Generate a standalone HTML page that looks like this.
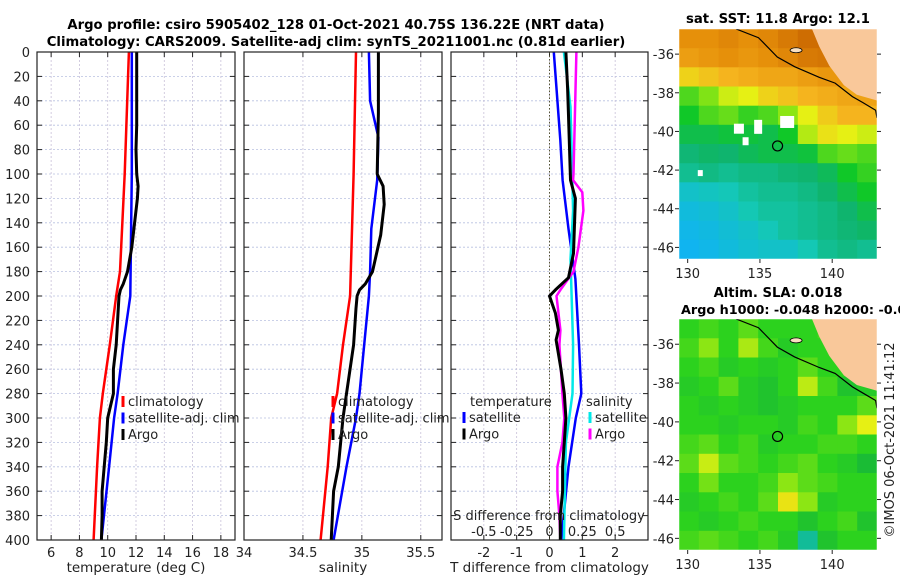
<!DOCTYPE html>
<html><head><meta charset="utf-8">
<style>
body{margin:0;background:#fff;}
svg{display:block;font-family:"DejaVu Sans","Liberation Sans",sans-serif;}
</style></head>
<body>
<svg id="chart" width="900" height="580" viewBox="0 0 900 580" xmlns="http://www.w3.org/2000/svg">
<g font-weight="bold" font-size="13.2" text-anchor="middle" fill="#000">
<text x="336" y="29">Argo profile: csiro 5905402_128 01-Oct-2021 40.75S 136.22E (NRT data)</text>
<text x="336" y="46">Climatology: CARS2009. Satellite-adj clim: synTS_20211001.nc (0.81d earlier)</text>
<text x="778" y="23">sat. SST: 11.8 Argo: 12.1</text>
<text x="778" y="297">Altim. SLA: 0.018</text>
<text x="681" y="314" text-anchor="start" font-size="12.8">Argo h1000: -0.048 h2000: -0.066</text>
</g>
<g id="panels"></g>
<g id="maps"></g>
<text transform="translate(894,440) rotate(-90)" font-size="13" text-anchor="middle" fill="#222">©IMOS 06-Oct-2021 11:41:12</text>
</svg>
<script>
// ---------- profile data ----------
const depthTicks=[0,20,40,60,80,100,120,140,160,180,200,220,240,260,280,300,320,340,360,380,400];
const tempTicks=[6,8,10,12,14,16,18];
const salTicks=[34,34.5,35,35.5];
const tdiffTicks=[-2,-1,0,1,2];
const sdiffTicks=[-0.5,-0.25,0,0.25,0.5];

const argoTDepth=[0,20,40,60,80,100,110,120,140,160,180,190,195,200,210,220,240,260,280,300,320,340,360,380,400];
const argoT=[12.05,12.05,12.05,12.05,12.0,12.05,12.15,12.1,11.9,11.7,11.4,11.1,10.9,10.8,10.75,10.7,10.6,10.4,10.4,10.0,9.9,9.75,9.6,9.6,9.55];
const climTDepth=[0,100,180,200,240,280,300,340,400];
const climT=[11.5,11.2,10.87,10.6,10.15,9.65,9.45,9.25,9.0];
const satTDepth=[0,100,200,240,280,300,340,400];
const satT=[11.7,11.7,11.6,11.1,10.7,10.45,10.1,9.55];

const argoSDepth=[0,50,100,110,125,150,180,190,195,200,210,240,280,300,340,360,400];
const argoS=[35.14,35.14,35.13,35.18,35.19,35.16,35.09,35.03,34.98,34.96,34.95,34.93,34.87,34.84,34.80,34.76,34.74];
const climSDepth=[0,100,200,240,280,300,340,400];
const climS=[34.95,34.93,34.9,34.84,34.79,34.74,34.71,34.65];
const satSDepth=[0,40,70,105,145,180,200,240,280,300,340,400];
const satS=[35.06,35.07,35.14,35.13,35.08,35.07,35.06,35.02,34.98,34.95,34.87,34.76];

const dTsatDepth=[0,72,105,145,186,240,280,300,340,400];
const dTsat=[0.13,0.33,0.4,0.58,0.79,0.9,0.97,0.8,0.58,0.36];
const dSsatDepth=[0,45,130,170,240,280,320,400];
const dSsat=[0.11,0.16,0.18,0.16,0.18,0.175,0.125,0.11];
const dTargoDepth=[0,30,52,105,120,165,185,195,200,214,228,236,260,280,300,320,340,360,380,400];
const dTargo=[0.5,0.55,0.58,0.64,0.79,0.73,0.58,0.18,0,0.18,0.27,0.2,0.35,0.45,0.5,0.45,0.4,0.4,0.33,0.33];
const dSargoDepth=[0,100,105,115,130,160,180,195,200,228,240,280,300,320,340,360,380,400];
const dSargo=[0.205,0.183,0.18,0.25,0.258,0.22,0.183,0.083,0.053,0.083,0.075,0.098,0.113,0.098,0.06,0.06,0.075,0.083];

// ---------- map data ----------
const sstGrid=[
[.9,.9,.92,.9,.92,.95,.98,.98,.95,.95],
[.86,.88,.9,.88,.9,.92,.95,.96,.93,.93],
[.76,.78,.8,.82,.84,.84,.86,.88,.88,.87],
[.6,.64,.7,.72,.76,.78,.8,.82,.84,.85],
[.55,.6,.62,.58,.6,.65,.72,.77,.8,.8],
[.5,.5,.52,.52,.5,.55,.68,.74,.72,.7],
[.44,.46,.45,.48,.5,.5,.52,.6,.62,.6],
[.4,.42,.4,.42,.42,.44,.45,.48,.55,.58],
[.3,.32,.34,.38,.4,.4,.42,.45,.5,.55],
[.25,.27,.3,.35,.38,.38,.4,.42,.45,.5],
[.22,.24,.27,.3,.34,.38,.4,.42,.44,.46],
[.2,.22,.25,.28,.3,.3,.35,.4,.42,.4]];
const slaGrid=[
[.5,.55,.5,.6,.5,.5,.5,.55,.5,.5],
[.55,.7,.5,.75,.55,.45,.5,.5,.5,.5],
[.5,.55,.45,.5,.45,.5,.6,.5,.5,.5],
[.45,.5,.6,.45,.4,.5,.78,.55,.4,.45],
[.5,.45,.5,.45,.4,.45,.5,.5,.5,.6],
[.5,.5,.45,.5,.5,.45,.55,.5,.7,.85],
[.55,.6,.5,.55,.45,.5,.5,.55,.55,.5],
[.6,.8,.6,.55,.5,.55,.6,.5,.45,.35],
[.5,.65,.5,.5,.55,.7,.6,.55,.5,.5],
[.45,.5,.55,.5,.6,.9,.7,.45,.5,.5],
[.5,.45,.5,.55,.5,.5,.4,.5,.55,.4],
[.55,.6,.55,.5,.55,.45,.05,.4,.5,.5]];
const lonTicks=[130,135,140];
const latTicks=[-36,-38,-40,-42,-44,-46];
const coastLon=[133.35,134.9,136.2,137.4,139.1,140.2,141.4,142.1,143.0,143.1];
const coastLat=[-34.7,-35.15,-36.15,-36.65,-37.2,-37.5,-38.2,-38.5,-38.9,-39.3];
const landLon=[138.6,139.1,139.8,140.8,141.7,143.1];
const landLat=[-34.7,-35.6,-36.6,-37.6,-38.1,-38.4];
const argoLon=136.22, argoLat=-40.75;

const NS='http://www.w3.org/2000/svg';
function mk(tag,attrs,parent){const e=document.createElementNS(NS,tag);for(const k in attrs)e.setAttribute(k,attrs[k]);parent.appendChild(e);return e;}
const panels=document.getElementById('panels');
const TOP=52,BOT=540;
const yD=d=>TOP+(d/400)*(BOT-TOP);

function panel(name,x0,x1,lo,hi,ticks,tickFmt,xlabel,zeroLine){
  const g=mk('g',{},panels);
  
  
  const sx=v=>x0+(v-lo)/(hi-lo)*(x1-x0);
  depthTicks.forEach(d=>{
    const l=mk('line',{x1:x0,x2:x1,y1:yD(d),y2:yD(d),stroke:'#b8c0e0','stroke-width':0.8,'stroke-dasharray':'2,2'},g);
    
    
  });
  ticks.forEach(t=>{
    const X=sx(t);
    const l=mk('line',{x1:X,x2:X,y1:TOP,y2:BOT,stroke:'#c8c0d8','stroke-width':0.8,'stroke-dasharray':'2,2'},g);
    
    
    mk('line',{x1:X,x2:X,y1:BOT,y2:BOT-5,stroke:'#222'},g);
    mk('line',{x1:X,x2:X,y1:TOP,y2:TOP+5,stroke:'#222'},g);
    const tx=mk('text',{x:X,y:BOT+17,'font-size':13,'text-anchor':'middle',fill:'#222'},g);
    tx.textContent=tickFmt(t);
    
    
  });
  depthTicks.forEach(d=>{
    mk('line',{x1:x0,x2:x0+5,y1:yD(d),y2:yD(d),stroke:'#222'},g);
    mk('line',{x1:x1,x2:x1-5,y1:yD(d),y2:yD(d),stroke:'#222'},g);
  });
  if(zeroLine){
    const z=mk('line',{x1:sx(0),x2:sx(0),y1:TOP,y2:BOT,stroke:'#555533','stroke-width':1,'stroke-dasharray':'1.5,2'},g);
    
    
  }
  const xl=mk('text',{x:(x0+x1)/2,y:572,'font-size':13.5,'text-anchor':'middle',fill:'#222'},g);
  xl.textContent=xlabel;
  
  
  return {g,sx,x0,x1};
}
function series(p,name,depths,vals,color,w,scale){
  const pts=depths.map((d,i)=>p.sx(vals[i]*(scale||1)).toFixed(1)+','+yD(d).toFixed(1)).join(' ');
  const l=mk('polyline',{points:pts,fill:'none',stroke:color,'stroke-width':w,'stroke-linejoin':'round'},p.g);
  
  
}
function frame(p){mk('rect',{x:p.x0,y:TOP,width:p.x1-p.x0,height:BOT-TOP,fill:'none',stroke:'#222','stroke-width':1.2},p.g);}
function legend(p,x,y,items){
  items.forEach((it,i)=>{
    const yy=y+i*16.5;
    const m=mk('line',{x1:x,x2:x,y1:yy-10,y2:yy+1,stroke:it[1],'stroke-width':3},p.g);
    
    
    const t=mk('text',{x:x+5,y:yy,'font-size':13,fill:'#222'},p.g);
    t.textContent=it[0];
    
    
  });
}

depthTicks.forEach(d=>{
  const t=mk('text',{x:30,y:yD(d)+5,'font-size':13,'text-anchor':'end',fill:'#222'},panels);
  t.textContent=d;
  
  
});

const p1=panel('temperature',37,235,5,19,tempTicks,t=>t,'temperature (deg C)');
series(p1,'climatology-temperature-line',climTDepth,climT,'#ff0000',2.5);
series(p1,'satellite-temperature-line',satTDepth,satT,'#0000ff',2.5);
series(p1,'argo-temperature-line',argoTDepth,argoT,'#000000',3);
frame(p1);
legend(p1,123,406,[['climatology','#ff0000'],['satellite-adj. clim','#0000ff'],['Argo','#000']]);

const p2=panel('salinity',244,442,34,35.68,salTicks,t=>t,'salinity');
series(p2,'climatology-salinity-line',climSDepth,climS,'#ff0000',2.5);
series(p2,'satellite-salinity-line',satSDepth,satS,'#0000ff',2.5);
series(p2,'argo-salinity-line',argoSDepth,argoS,'#000000',3);
frame(p2);
legend(p2,333,406,[['climatology','#ff0000'],['satellite-adj. clim','#0000ff'],['Argo','#000']]);

const p3=panel('difference',451,648,-3,3,tdiffTicks,t=>t,'T difference from climatology',true);
series(p3,'satellite-tdiff-line',dTsatDepth,dTsat,'#0000ff',2.5);
series(p3,'satellite-sdiff-line',dSsatDepth,dSsat,'#00e8e8',2.5,4);
series(p3,'argo-sdiff-line',dSargoDepth,dSargo,'#ff00ff',2.5,4);
series(p3,'argo-tdiff-line',dTargoDepth,dTargo,'#000000',3,1);
frame(p3);
{
  const t=mk('text',{x:470,y:406,'font-size':13,fill:'#222'},p3.g);t.textContent='temperature';
  
  
  const t2=mk('text',{x:586,y:406,'font-size':13,fill:'#222'},p3.g);t2.textContent='salinity';
  
  
}
legend(p3,464,422,[['satellite','#0000ff'],['Argo','#000']]);
legend(p3,590,422,[['satellite','#00e8e8'],['Argo','#ff00ff']]);
{
  const t=mk('text',{x:549,y:520,'font-size':13,'text-anchor':'middle',fill:'#222'},p3.g);
  t.textContent='S difference from climatology';
  
  
  sdiffTicks.forEach(s=>{
    const l=mk('text',{x:p3.sx(s*4),y:536,'font-size':13,'text-anchor':'middle',fill:'#222'},p3.g);
    l.textContent=s;
    
    
  });
}

// ---------- maps ----------
const maps=document.getElementById('maps');
function cmap(stops,v){
  v=Math.max(0,Math.min(1,v));
  for(let i=1;i<stops.length;i++){
    if(v<=stops[i][0]){const a=stops[i-1],b=stops[i],t=(v-a[0])/(b[0]-a[0]);
      const c=a[1].map((x,k)=>Math.round(x+(b[1][k]-x)*t));return 'rgb('+c.join(',')+')';}
  }
  return 'rgb('+stops[stops.length-1][1].join(',')+')';
}
const sstStops=[[0,[30,100,255]],[0.2,[16,180,240]],[0.35,[20,200,180]],[0.45,[15,180,110]],[0.55,[16,200,40]],[0.65,[140,230,20]],[0.72,[230,240,20]],[0.8,[245,180,30]],[0.9,[230,144,10]],[1,[200,100,0]]];
const slaStops=[[0,[18,190,170]],[0.3,[20,180,60]],[0.5,[44,210,30]],[0.7,[140,230,20]],[0.85,[230,240,20]],[1,[240,200,20]]];
function drawMap(name,ox,oy,grid,stops,lonLo,lonHi,latHi,latLo,w,h,gaps){
  const g=mk('g',{},maps);
  
  
  const sx=lon=>ox+(lon-lonLo)/(lonHi-lonLo)*w;
  const sy=lat=>oy+(latHi-lat)/(latHi-latLo)*h;
  const rows=grid.length,cols=grid[0].length,cw=w/cols,ch=h/rows;
  const clip='clip-'+name;
  const cp=mk('clipPath',{id:clip},g);mk('rect',{x:ox,y:oy,width:w,height:h},cp);
  const cg=mk('g',{'clip-path':'url(#'+clip+')'},g);
  grid.forEach((row,r)=>row.forEach((v,c)=>{
    const cell=mk('rect',{x:(ox+c*cw).toFixed(1),y:(oy+r*ch).toFixed(1),width:(cw+0.6).toFixed(1),height:(ch+0.6).toFixed(1),fill:cmap(stops,v)},cg);
    
    
  }));
  if(gaps){gaps.forEach(q=>mk('rect',{x:sx(q[0]),y:sy(q[1]),width:q[2],height:q[3],fill:'#fff'},cg));}
  const lp=mk('polygon',{points:[[landLon[0],latHi+1]].concat(landLon.map((l,i)=>[l,landLat[i]])).concat([[lonHi+1,landLat[landLat.length-1]],[lonHi+1,latHi+1]]).map(p=>sx(p[0]).toFixed(1)+','+sy(p[1]).toFixed(1)).join(' '),fill:'#f9c89a'},cg);
  
  
  mk('ellipse',{cx:sx(137.5),cy:sy(-35.8),rx:6,ry:2.5,fill:'#f9e0c0',stroke:'#000','stroke-width':0.8},cg);
  const cl=mk('polyline',{points:coastLon.map((l,i)=>sx(l).toFixed(1)+','+sy(coastLat[i]).toFixed(1)).join(' '),fill:'none',stroke:'#000','stroke-width':1.2},cg);
  
  
  const m=mk('circle',{cx:sx(argoLon),cy:sy(argoLat),r:5,fill:'none',stroke:'#000','stroke-width':1.2},g);
  
  
  mk('rect',{x:ox,y:oy,width:w,height:h,fill:'none',stroke:'#fff','stroke-width':0.5},g);
  lonTicks.forEach(l=>{
    mk('line',{x1:sx(l),x2:sx(l),y1:oy+h,y2:oy+h+4,stroke:'#222'},g);
    const t=mk('text',{x:sx(l),y:oy+h+19,'font-size':13,'text-anchor':'middle',fill:'#222'},g);
    t.textContent=l;
    
    
  });
  latTicks.forEach(l=>{
    mk('line',{x1:ox-4,x2:ox,y1:sy(l),y2:sy(l),stroke:'#222'},g);
    mk('line',{x1:ox+w,x2:ox+w+4,y1:sy(l),y2:sy(l),stroke:'#222'},g);
    const t=mk('text',{x:ox-5,y:sy(l)+5,'font-size':13,'text-anchor':'end',fill:'#222'},g);
    t.textContent=l;
    
    
  });
}
drawMap('sst-map',679,29,sstGrid,sstStops,129.4,143.1,-34.7,-46.6,198,230,[[134.6,-39.4,8,14],[136.4,-39.2,14,12],[133.2,-39.6,10,10],[133.8,-40.3,6,8],[130.7,-42,5,6]]);
drawMap('sla-map',679,319,slaGrid,slaStops,129.4,143.1,-34.7,-46.6,198,231,null);
</script>
</body></html>
